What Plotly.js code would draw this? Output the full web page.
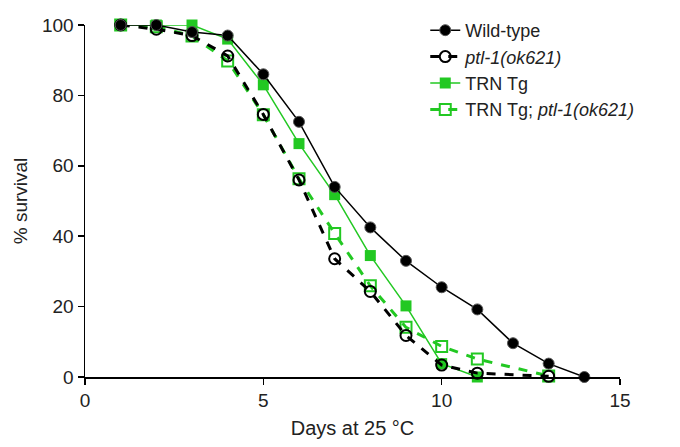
<!DOCTYPE html>
<html>
<head>
<meta charset="utf-8">
<script src="https://cdn.plot.ly/plotly-3.0.1.min.js"></script>
<style>html,body{margin:0;padding:0;background:#fff}#chart{width:680px;height:447px}</style>
</head>
<body>
<div id="chart"></div>
<script>
const wtDays = [1,2,3,4,5,6,7,8,9,10,11,12,13,14];
const wtSurv = [100,100,98,97,86,72.5,54,42.5,33,25.5,19.2,9.6,3.8,0];

const ptlDays = [1,2,3,4,5,6,7,8,9,10,11,13];
const ptlSurv = [100,98.8,97,91.2,74.6,56,33.6,24.3,11.8,3.4,1.1,0.2];

const trnDays = [1,2,3,4,5,6,7,8,9,10,11];
const trnSurv = [100,100,100,96,83,66.3,51.8,34.5,20.2,3.8,0];

const trnPtlDays = [1,2,3,4,5,6,7,8,9,10,11,13];
const trnPtlSurv = [100,99.5,96.9,89.8,74.5,56.3,40.8,25.9,14.1,8.7,5.1,0.3];

const seriesNames = ["Wild-type", "<i>ptl-1(ok621)</i>", "TRN Tg", "TRN Tg; <i>ptl-1(ok621)</i>"];
const xTicks = [0,5,10,15];
const yTicks = [0,20,40,60,80,100];

const green = "rgb(34,200,34)";
const black = "#000";

const traces = [
  {x: trnPtlDays, y: trnPtlSurv, name: seriesNames[3], legendrank: 4, mode: "lines+markers",
   line: {color: green, width: 3, dash: "dash"},
   marker: {symbol: "square-open", size: 11, color: green, line: {width: 2, color: green}}},
  {x: trnDays, y: trnSurv, name: seriesNames[2], legendrank: 3, mode: "lines+markers",
   line: {color: green, width: 1.5},
   marker: {symbol: "square", size: 11, color: green}},
  {x: ptlDays, y: ptlSurv, name: seriesNames[1], legendrank: 2, mode: "lines+markers",
   line: {color: black, width: 3, dash: "dash"},
   marker: {symbol: "circle-open", size: 11, color: black, line: {width: 2, color: black}}},
  {x: wtDays, y: wtSurv, name: seriesNames[0], legendrank: 1, mode: "lines+markers",
   line: {color: black, width: 1.5},
   marker: {symbol: "circle", size: 11, color: black, line: {width: 1, color: "#555"}}}
];
traces.forEach(t => t.cliponaxis = false);

const layout = {
  width: 680, height: 447,
  margin: {l: 85, r: 60, t: 22, b: 70},
  paper_bgcolor: "#fff", plot_bgcolor: "#fff",
  font: {family: "Liberation Sans, Arial, sans-serif", size: 19, color: "#222"},
  showlegend: true,
  legend: {x: 0.636, y: 1.037, xanchor: "left", yanchor: "top", bgcolor: "rgba(0,0,0,0)",
           font: {size: 18, color: "#222"}, tracegroupgap: 0, itemwidth: 30},
  xaxis: {range: [0, 15], tickvals: xTicks, ticktext: xTicks.map(String),
          showgrid: false, zeroline: false, showline: true, linecolor: "#000", linewidth: 1.5,
          ticks: "outside", ticklen: 6, tickwidth: 1.5, tickcolor: "#000",
          tickfont: {size: 19},
          title: {text: "Days at 25 °C", font: {size: 20}, standoff: 10}},
  yaxis: {range: [0, 100], tickvals: yTicks, ticktext: yTicks.map(String),
          showgrid: false, zeroline: false, showline: true, linecolor: "#000", linewidth: 1.5,
          ticks: "outside", ticklen: 6, tickwidth: 1.5, tickcolor: "#000",
          tickfont: {size: 19},
          title: {text: "% survival", font: {size: 19}, standoff: 9}}
};

Plotly.newPlot("chart", traces, layout, {displayModeBar: false, staticPlot: true});
</script>
</body>
</html>
